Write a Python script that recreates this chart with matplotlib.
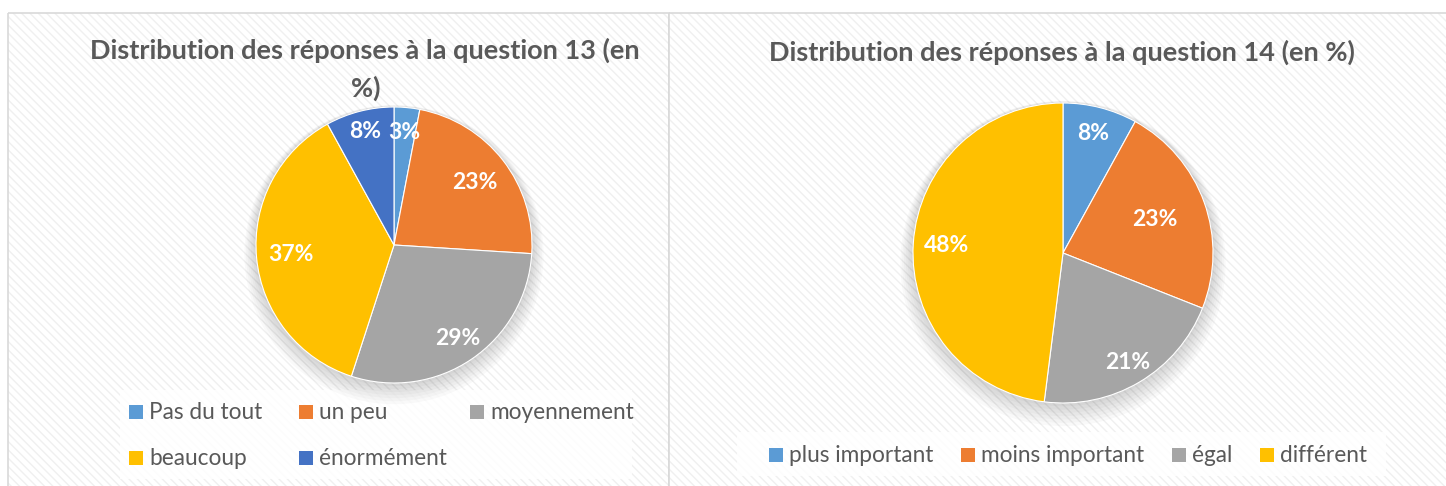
import numpy as np
import matplotlib
matplotlib.use("Agg")
import matplotlib.pyplot as plt
from matplotlib.patches import Rectangle, Circle

plt.rcParams['font.family'] = ['Lato', 'DejaVu Sans']

# data
q13_labels = ["Pas du tout", "un peu", "moyennement", "beaucoup", "énormément"]
q13_values = [3, 23, 29, 37, 8]
q13_colors = ["#5B9BD5", "#ED7D31", "#A5A5A5", "#FFC000", "#4472C4"]

q14_labels = ["plus important", "moins important", "égal", "différent"]
q14_values = [8, 23, 21, 48]
q14_colors = ["#5B9BD5", "#ED7D31", "#A5A5A5", "#FFC000"]

W, H = 1446, 486
TXT = "#595959"

fig = plt.figure(figsize=(W / 100, H / 100), dpi=100)
fig.patch.set_facecolor("white")

# background panels (pixel coords, y down)
bg = fig.add_axes([0, 0, 1, 1])
bg.set_xlim(0, W)
bg.set_ylim(H, 0)
bg.axis("off")
for x0, x1 in [(8, 669), (669, W + 5)]:
    bg.add_patch(Rectangle((x0, 13), x1 - x0, H, facecolor="white",
                           edgecolor="#F0F0F0", hatch="\\\\\\\\", lw=0))
    bg.add_patch(Rectangle((x0, 13), x1 - x0, H, facecolor="none",
                           edgecolor="#D9D9D9", lw=1.2))


def pie_axes(cx, cy, r):
    return fig.add_axes([(cx - r) / W, (H - cy - r) / H, 2 * r / W, 2 * r / H])


def draw_pie(ax, values, colors, label_r):
    # soft shadow
    for k in range(8):
        ax.add_patch(Circle((0, -0.01 * k), 1.0 + 0.012 * k, color="#000000",
                            alpha=0.025, lw=0, zorder=0, clip_on=False))
    wedges, texts, autotexts = ax.pie(
        values, colors=colors, startangle=90, counterclock=False,
        autopct="%d%%", wedgeprops=dict(linewidth=0.8, edgecolor="white"),
        textprops=dict(color="white", fontsize=16.5, fontweight="bold"))
    for w, t, d in zip(wedges, autotexts, label_r):
        ang = np.deg2rad((w.theta1 + w.theta2) / 2)
        t.set_position((d * np.cos(ang), d * np.sin(ang)))
    ax.set_xlim(-1, 1)
    ax.set_ylim(-1, 1)
    ax.set_aspect("equal")
    ax.axis("off")
    return wedges


def draw_legend(box, labels, colors, slots):
    x0, y0, x1, y1 = box
    bg.add_patch(Rectangle((x0, y0), x1 - x0, y1 - y0, facecolor="white",
                           edgecolor="none", alpha=0.85, zorder=3))
    for lab, col, (mx, my) in zip(labels, colors, slots):
        bg.add_patch(Rectangle((mx, my - 7), 14, 14, facecolor=col,
                               edgecolor="none", zorder=4))
        bg.text(mx + 20, my + 7, lab, ha="left", va="baseline",
                fontsize=16.3, color=TXT, zorder=4)


ax1 = pie_axes(394, 245, 138)
draw_pie(ax1, q13_values, q13_colors, [0.82, 0.74, 0.82, 0.75, 0.85])
ax2 = pie_axes(1063, 253, 150)
draw_pie(ax2, q14_values, q14_colors, [0.82, 0.65, 0.85, 0.78])

# titles
fig.text(365 / W, 1 - 50 / H, "Distribution des réponses à la question 13 (en",
         ha="center", va="center", fontsize=19.5, fontweight="bold", color=TXT)
fig.text(366 / W, 1 - 88 / H, "%)", ha="center", va="center",
         fontsize=19.5, fontweight="bold", color=TXT)
fig.text(1062 / W, 1 - 52 / H, "Distribution des réponses à la question 14 (en %)",
         ha="center", va="center", fontsize=19.5, fontweight="bold", color=TXT)

# legends
draw_legend((120, 390, 632, 479), q13_labels, q13_colors,
            [(129, 411.5), (299, 411.5), (470, 411.5), (129, 457.5), (299, 457.5)])
draw_legend((737, 432, 1386, 476), q14_labels, q14_colors,
            [(769, 455), (961, 455), (1172, 455), (1260, 455)])

fig.savefig("out.png", dpi=100)
